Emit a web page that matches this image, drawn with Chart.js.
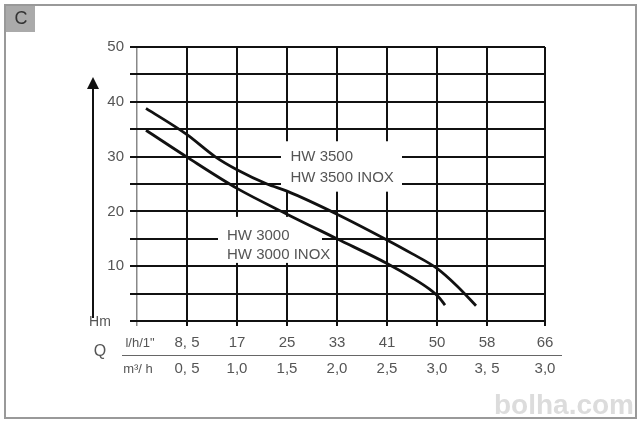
<!DOCTYPE html>
<html>
<head>
<meta charset="utf-8">
<script src="https://cdn.jsdelivr.net/npm/chart.js@4.4.1/dist/chart.umd.min.js"></script>
<style>
html,body{margin:0;padding:0;background:#fff;}
#wrap{width:640px;height:422px;position:relative;}
</style>
</head>
<body>
<div id="wrap"><canvas id="c"></canvas></div>
<script>
// ---- data ----
const xTickPositions = [0, 1, 2, 3, 4, 5, 6, 7, 8.16];
const flowLh = ['', '8, 5', '17', '25', '33', '41', '50', '58', '66'];
const flowM3 = ['', '0, 5', '1,0', '1,5', '2,0', '2,5', '3,0', '3, 5', '3,0'];
const yLabelled = [10, 20, 30, 40, 50];

const hw3500X = [0.18, 1, 1.56, 2, 2.6, 3, 4, 5, 5.5, 6, 6.4, 6.78];
const hw3500Y = [38.8, 34.0, 30, 27.6, 25.0, 23.7, 19.5, 14.8, 12.3, 9.6, 6.4, 2.8];
const hw3000X = [0.18, 1, 2, 3, 4, 5, 5.5, 5.85, 6.05, 6.16];
const hw3000Y = [34.8, 29.9, 24.2, 19.5, 15, 10.5, 7.9, 5.8, 4.2, 2.9];

const label3500 = ['HW 3500', 'HW 3500 INOX'];
const label3000 = ['HW 3000', 'HW 3000 INOX'];

const FONT = '"Liberation Sans", Arial, sans-serif';
const TXT = '#555';

function pts(xs, ys) { return xs.map((x, i) => ({ x: x, y: ys[i] })); }

const decor = {
  id: 'decor',
  beforeDraw(chart) {
    const ctx = chart.ctx;
    ctx.save();
    ctx.fillStyle = '#fff';
    ctx.fillRect(0, 0, chart.width, chart.height);
    ctx.restore();
  },
  beforeDatasetsDraw(chart) {
    const ctx = chart.ctx, xs = chart.scales.x, ys = chart.scales.y;
    ctx.save();
    ctx.fillStyle = '#fff';
    // white boxes behind the curve labels
    let x1 = xs.getPixelForValue(2.88), x2 = xs.getPixelForValue(5.3);
    let y1 = ys.getPixelForValue(32.8), y2 = ys.getPixelForValue(23.6);
    ctx.fillRect(x1, y1, x2 - x1, y2 - y1);
    x1 = xs.getPixelForValue(1.62); x2 = xs.getPixelForValue(3.7);
    y1 = ys.getPixelForValue(19.0); y2 = ys.getPixelForValue(10.6);
    ctx.fillRect(x1, y1, x2 - x1, y2 - y1);
    ctx.fillStyle = TXT;
    ctx.font = '15px ' + FONT;
    ctx.textBaseline = 'middle';
    ctx.textAlign = 'left';
    ctx.fillText(label3500[0], xs.getPixelForValue(3.07), ys.getPixelForValue(30));
    ctx.fillText(label3500[1], xs.getPixelForValue(3.07), ys.getPixelForValue(26.1));
    ctx.fillText(label3000[0], xs.getPixelForValue(1.8), ys.getPixelForValue(15.5));
    ctx.fillText(label3000[1], xs.getPixelForValue(1.8), ys.getPixelForValue(12.0));
    ctx.restore();
  },
  afterDraw(chart) {
    const ctx = chart.ctx;
    const L = chart.chartArea.left, B = chart.chartArea.bottom;
    ctx.save();
    // axis arrow
    ctx.strokeStyle = '#111'; ctx.fillStyle = '#111'; ctx.lineWidth = 2;
    ctx.beginPath(); ctx.moveTo(93, B - 3); ctx.lineTo(93, 86); ctx.stroke();
    ctx.beginPath(); ctx.moveTo(93, 77); ctx.lineTo(87, 89); ctx.lineTo(99, 89); ctx.closePath(); ctx.fill();
    ctx.fillStyle = TXT;
    ctx.textAlign = 'center'; ctx.textBaseline = 'middle';
    ctx.font = '14px ' + FONT;
    ctx.fillText('Hm', 100, B + 1);
    ctx.font = '16px ' + FONT;
    ctx.fillText('Q', 100, 352);
    ctx.font = '13px ' + FONT;
    ctx.fillText('l/h/1"', L + 3, 343);
    ctx.fillText('m\u00B3/ h', L + 1, 369);
    // separator between the two Q rows
    ctx.strokeStyle = '#666'; ctx.lineWidth = 1;
    ctx.beginPath(); ctx.moveTo(122, 355.5); ctx.lineTo(562, 355.5); ctx.stroke();
    // watermark
    ctx.fillStyle = '#dcdcdc';
    ctx.font = 'bold 28px ' + FONT;
    ctx.textAlign = 'left'; ctx.textBaseline = 'alphabetic';
    ctx.fillText('bolha.com', 494, 414);
    // frame
    ctx.strokeStyle = '#999'; ctx.lineWidth = 2;
    ctx.strokeRect(5, 5, 631, 413);
    // C box
    ctx.fillStyle = '#aaa';
    ctx.fillRect(6, 6, 29, 26);
    ctx.fillStyle = '#333';
    ctx.font = '18px ' + FONT;
    ctx.textAlign = 'center'; ctx.textBaseline = 'middle';
    ctx.fillText('C', 21, 19);
    ctx.restore();
  }
};

new Chart(document.getElementById('c'), {
  type: 'line',
  data: {
    datasets: [
      { label: 'HW 3500', data: pts(hw3500X, hw3500Y), borderColor: '#111', borderWidth: 2.8, pointRadius: 0, cubicInterpolationMode: 'monotone', fill: false },
      { label: 'HW 3000', data: pts(hw3000X, hw3000Y), borderColor: '#111', borderWidth: 2.8, pointRadius: 0, cubicInterpolationMode: 'monotone', fill: false }
    ]
  },
  options: {
    responsive: true,
    maintainAspectRatio: false,
    animation: false,
    events: [],
    layout: { padding: { left: 0, right: 95, top: 47, bottom: 0 } },
    plugins: { legend: { display: false }, tooltip: { enabled: false } },
    scales: {
      x: {
        type: 'linear',
        min: 0,
        max: xTickPositions[xTickPositions.length - 1],
        afterBuildTicks(scale) { scale.ticks = xTickPositions.map(v => ({ value: v })); },
        afterFit(scale) { scale.height = 101; },
        border: { display: false },
        grid: {
          color: ctx => ctx.index === 0 ? '#888' : '#111',
          lineWidth: ctx => ctx.index === 0 ? 1.5 : 2,
          tickLength: 5,
          drawTicks: true
        },
        ticks: {
          autoSkip: false,
          maxRotation: 0,
          padding: 4,
          color: TXT,
          font: { size: 15, family: FONT, lineHeight: 26 / 15 },
          callback: (v, i) => [flowLh[i], flowM3[i]]
        }
      },
      y: {
        type: 'linear',
        min: 0,
        max: 50,
        afterFit(scale) { scale.width = 137; },
        border: { display: false },
        grid: { color: '#111', lineWidth: 2, tickLength: 7 },
        ticks: {
          stepSize: 5,
          padding: 6,
          color: TXT,
          font: { size: 15, family: FONT },
          callback: v => yLabelled.includes(v) ? String(v) : ''
        }
      }
    }
  },
  plugins: [decor]
});
</script>
</body>
</html>
